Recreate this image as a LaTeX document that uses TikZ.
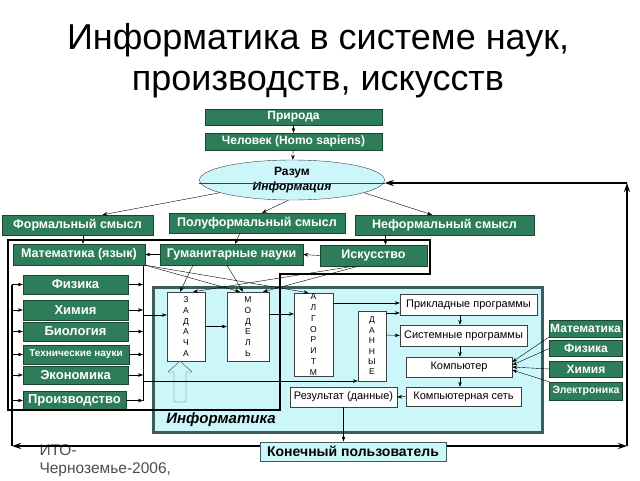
\documentclass[tikz,border=0pt]{standalone}
\usepackage{fontspec}
\setmainfont{Liberation Sans}
\usetikzlibrary{shapes.geometric,arrows.meta}
\definecolor{grn}{RGB}{46,125,90}
\definecolor{lcyan}{RGB}{204,247,250}
\definecolor{infedge}{RGB}{62,92,92}

\begin{document}
\begin{tikzpicture}[x=1pt,y=-1pt,>={Stealth[length=5pt,width=3.6pt]},
  gbox/.style={draw=grn!55!black,fill=grn,text=white,inner sep=0pt,font=\fontsize{12.5}{14}\selectfont\bfseries},
  sci/.style={gbox,minimum width=105pt,minimum height=19pt,font=\fontsize{13}{15}\selectfont\bfseries},
  rsci/.style={gbox,minimum width=73pt,minimum height=16pt,font=\fontsize{12}{14}\selectfont\bfseries},
  wbox/.style={draw=black!75,fill=white,inner sep=0pt,font=\fontsize{11}{13}\selectfont},
  letters/.style={wbox,align=center,font=\fontsize{8.5}{10.8}\selectfont},
  fbk/.style={line width=1.6pt,-{Stealth[length=9pt,width=6pt]}},
  frm/.style={line width=2pt}]
\path[use as bounding box] (0,0) rectangle (640,480);

% title
\node[align=center,font=\fontsize{36}{41}\selectfont] (title) at (318,61) {Информатика в системе наук,\\производств, искусств};

% top chain
\node[gbox,minimum width=177pt,minimum height=16pt,font=\fontsize{12}{14}\selectfont\bfseries] (priroda) at (293.5,117) {Природа};
\node[gbox,minimum width=177pt,minimum height=17pt,font=\fontsize{12}{14}\selectfont\bfseries] (chelovek) at (293.5,141.5) {Человек (Homo sapiens)};
\node[ellipse,draw=black!75,fill=lcyan,minimum width=185pt,minimum height=40pt,inner sep=0pt,align=center,font=\fontsize{12}{15}\selectfont\bfseries] (razum) at (292,180) {Разум\\\textit{Информация}};
\draw[black!75] ([yshift=-3pt]razum.west) -- ([yshift=-3pt]razum.east);
\draw[->] (priroda) -- (chelovek);
\draw[->] (chelovek) -- (razum);

% kinds of sense
\node[gbox,minimum width=151pt,minimum height=20pt] (formal) at (77.5,225) {Формальный смысл};
\node[gbox,minimum width=176pt,minimum height=20pt] (poluformal) at (257,223) {Полуформальный смысл};
\node[gbox,minimum width=179pt,minimum height=20pt] (neformal) at (444.5,225) {Неформальный смысл};
\draw[->] (razum.190) -- ([xshift=25pt]formal.north);
\draw[->] (razum.260) -- ([xshift=5pt]poluformal.north);
\draw[->] (razum.350) -- ([xshift=-12.5pt]neformal.north);

% sciences and arts
\node[gbox,minimum width=132pt,minimum height=21pt] (matem) at (79,254.5) {Математика (язык)};
\node[gbox,minimum width=143pt,minimum height=21pt] (gumanit) at (231.5,254.5) {Гуманитарные науки};
\node[gbox,minimum width=107pt,minimum height=21pt] (iskusstvo) at (373.5,255.5) {Искусство};
\draw[->] ([xshift=5.5pt]formal.south) -- ([xshift=4pt]matem.north);
\draw[->] ([xshift=-17pt]poluformal.south) -- ([xshift=3.5pt]gumanit.north);
\draw[->] ([xshift=-59pt]neformal.south) -- ([xshift=12pt]iskusstvo.north);
\draw[->] (gumanit.west) -- (matem.east);
\draw[->] (iskusstvo.west) -- (gumanit.east);

\node[sci] (fiz) at (75.5,284.5) {Физика};
\node[sci,minimum height=20pt] (him) at (75.5,310) {Химия};
\node[sci] (bio) at (75.5,331.5) {Биология};
\node[sci,minimum width=106pt,font=\fontsize{10}{12}\selectfont\bfseries] (teh) at (76,354.5) {Технические науки};
\node[sci,minimum height=18pt] (eko) at (75.5,375) {Экономика};
\node[sci,minimum width=103pt] (pro) at (74.5,400.5) {Производство};

% informatics
\node[draw=infedge,line width=3pt,fill=lcyan,minimum width=389pt,minimum height=145pt] (inf) at (347.5,359.5) {};
\node[font=\fontsize{15}{17}\selectfont\bfseries\itshape] (inflabel) at (221,420) {Информатика};

\draw[frm] (8,240) -- (430,240) -- (430,274) -- (280,274) -- (280,410) -- (8,410) -- cycle;

\node[letters,minimum width=38pt,minimum height=69pt] (zadacha) at (186,326.5) {З\\А\\Д\\А\\Ч\\А};
\node[letters,minimum width=42pt,minimum height=69pt] (model) at (248,326.5) {М\\О\\Д\\Е\\Л\\Ь};
\node[letters,minimum width=39pt,minimum height=83pt] (algoritm) at (313.5,334.5) {А\\Л\\Г\\О\\Р\\И\\Т\\М};
\node[letters,minimum width=28pt,minimum height=70pt,font=\fontsize{8.5}{10.4}\selectfont] (dannye) at (372,346) {Д\\А\\Н\\Н\\Ы\\Е};
\node[wbox,minimum width=137pt,minimum height=21pt] (prikl) at (468.5,304.5) {Прикладные программы};
\node[wbox,minimum width=127pt,minimum height=21pt] (sistem) at (463.5,335.5) {Системные программы};
\node[wbox,minimum width=106pt,minimum height=20pt] (komp) at (459,367) {Компьютер};
\node[wbox,minimum width=115pt,minimum height=19pt] (kset) at (463.5,396.5) {Компьютерная сеть};
\node[wbox,minimum width=107pt,minimum height=20pt] (rezult) at (343.5,397) {Результат (данные)};

\node[rsci,minimum height=17pt] (rmat) at (585.5,328.5) {Математика};
\node[rsci] (rfiz) at (586,348.5) {Физика};
\node[rsci] (rhim) at (586,369) {Химия};
\node[rsci,minimum height=18pt,font=\fontsize{10.5}{12}\selectfont\bfseries] (rel) at (586,391) {Электроника};

\node[draw=infedge,line width=1pt,fill=lcyan,inner sep=0pt,minimum width=186pt,minimum height=19pt,font=\fontsize{14}{16}\selectfont\bfseries] (user) at (353,451.5) {Конечный пользователь};

\node[anchor=west,align=left,text=black!70,font=\fontsize{15.5}{18}\selectfont] (ito) at (36,461) {ИТО-\\Черноземье-2006,};

% block arrow into the task
\draw[black!75,fill=lcyan] (174,402) -- (174,372) -- (168,372) -- (180,361) -- (192,372) -- (186,372) -- (186,402) -- cycle;

% left bus
\coordinate (lbt) at (12,284.5);
\coordinate (lbb) at (12,446);
\draw[fbk] ([yshift=5.5pt]user.west) -- (lbb);
\draw[line width=1.2pt] (lbb) -- (lbt);
\draw[->] (lbt |- fiz.west) -- (fiz.west);
\draw[->] (lbt |- him.west) -- (him.west);
\draw[->] (lbt |- bio.west) -- (bio.west);
\draw[->] (lbt |- teh.west) -- (teh.west);
\draw[->] (lbt |- eko.west) -- (eko.west);
\draw[->] (lbt |- pro.west) -- (pro.west);

% right bus
\coordinate (rbt) at (143,266);
\coordinate (rbb) at (143,400.5);
\coordinate (rz) at (143,315);
\coordinate (rd) at (143,381);
\draw (rbt) -- (rbb);
\draw[->] (fiz.east) -- (rbt |- fiz.east);
\draw[->] (him.east) -- (rbt |- him.east);
\draw[->] (bio.east) -- (rbt |- bio.east);
\draw[->] (teh.east) -- (rbt |- teh.east);
\draw[->] (eko.east) -- (rbt |- eko.east);
\draw[->] (pro.east) -- (rbt |- pro.east);
\draw[->] (rz) -- ([yshift=11.5pt]zadacha.west);
\draw[->] (rd) -- ([yshift=-35pt]dannye.west);

% crossing links
\draw[->] (matem.south east) -- ([xshift=-8pt]model.north);
\draw[->] (matem.south east) -- ([xshift=-5pt]algoritm.north);
\draw[->] ([xshift=-38.5pt]gumanit.south) -- ([xshift=-6pt]zadacha.north);
\draw[->] ([xshift=-4.5pt]gumanit.south) -- ([xshift=-5pt]model.north);
\draw[->] ([xshift=-20pt]iskusstvo.south) -- ([xshift=7pt]zadacha.north);
\draw[->] ([xshift=-15pt]iskusstvo.south) -- ([xshift=15pt]model.north);

% inside informatics
\draw[->] (zadacha.east) -- (model.west);
\draw[->] ([yshift=12.5pt]model.east) -- ([yshift=20.5pt]algoritm.west);
\draw[->] ([yshift=31.5pt]algoritm.east) -- ([yshift=1.5pt]prikl.west);
\draw[->] ([yshift=33pt]dannye.east) -- ([yshift=-8.5pt]prikl.west);
\draw[->] ([yshift=11pt]dannye.east) -- (sistem.west);
\draw[->] ([xshift=-8.5pt]prikl.south) -- ([xshift=-3.5pt]sistem.north);
\draw[->] ([xshift=-3.5pt]sistem.south) -- ([xshift=1pt]komp.north);
\draw[->] ([xshift=1pt]komp.south) -- ([xshift=-3.5pt]kset.north);
\draw[->] (kset.west) -- (rezult.east);
\draw[->] (rezult.south) -- (rezult.south |- user.north);
\draw[->] (rmat.south west) -- ([yshift=5pt]komp.east);
\draw[->] (rfiz.west) -- ([yshift=2pt]komp.east);
\draw[->] (rhim.west) -- (komp.east);
\draw[->] (rel.north west) -- ([yshift=-3pt]komp.east);

% feedback loop
\coordinate (rcb) at (627,446);
\coordinate (rct) at (627,183);
\draw[fbk] ([yshift=5.5pt]user.east) -- (rcb);
\draw[fbk] (rcb) -- (rct);
\draw[fbk] (rct) -- (rct -| razum.east);
\end{tikzpicture}
\end{document}
